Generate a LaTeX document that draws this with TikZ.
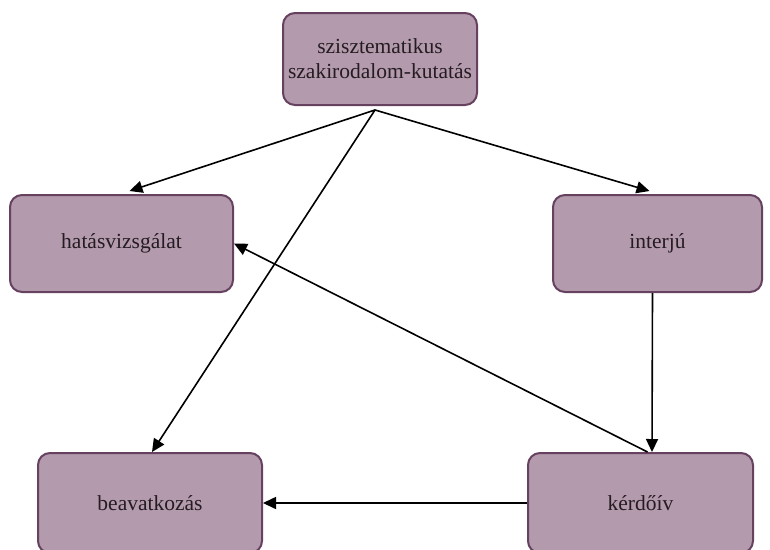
\documentclass[tikz,border=0pt]{standalone}
\usepackage{fontspec}
\setmainfont{Liberation Serif}
\usetikzlibrary{arrows.meta}
\definecolor{boxfill}{HTML}{B39AAC}
\definecolor{boxline}{HTML}{664260}
\definecolor{boxtext}{HTML}{251C23}
\begin{document}
\begin{tikzpicture}[x=1pt, y=1pt,
    box/.style={draw=boxline, fill=boxfill, line width=2pt, rounded corners=12pt,
      text=boxtext, font=\fontsize{21.5}{25}\selectfont, align=center, inner sep=0pt},
    link/.style={line width=1.6pt, -{Triangle[length=13pt, width=12pt]}}]
  \useasboundingbox (0,0) rectangle (770,-549);

  \node[box, minimum width=194, minimum height=92] (top) at (380,-59) {szisztematikus\\szakirodalom-kutatás};
  \node[box, minimum width=223, minimum height=97] (hatas) at (121.5,-243.5) {hatásvizsgálat};
  \node[box, minimum width=209, minimum height=97] (interju) at (657.5,-243.5) {interjú};
  \node[box, minimum width=224, minimum height=100] (beav) at (150,-503) {beavatkozás};
  \node[box, minimum width=225, minimum height=100] (kerdo) at (640.5,-503) {kérdőív};

  \coordinate (src) at ([xshift=-5pt, yshift=-4pt]top.south);
  \draw[link] (src) -- ([xshift=8pt, yshift=3pt]hatas.north);
  \draw[link] (src) -- ([xshift=-8pt, yshift=3pt]interju.north);
  \draw[link] (src) -- ([xshift=2pt]beav.north);
  \draw[link] ([xshift=-5pt]interju.south) -- ([xshift=11.5pt]kerdo.north);
  \draw[link] ([xshift=7pt]kerdo.north) -- (hatas.east);
  \draw[link] (kerdo.west) -- (beav.east);
\end{tikzpicture}
\end{document}
